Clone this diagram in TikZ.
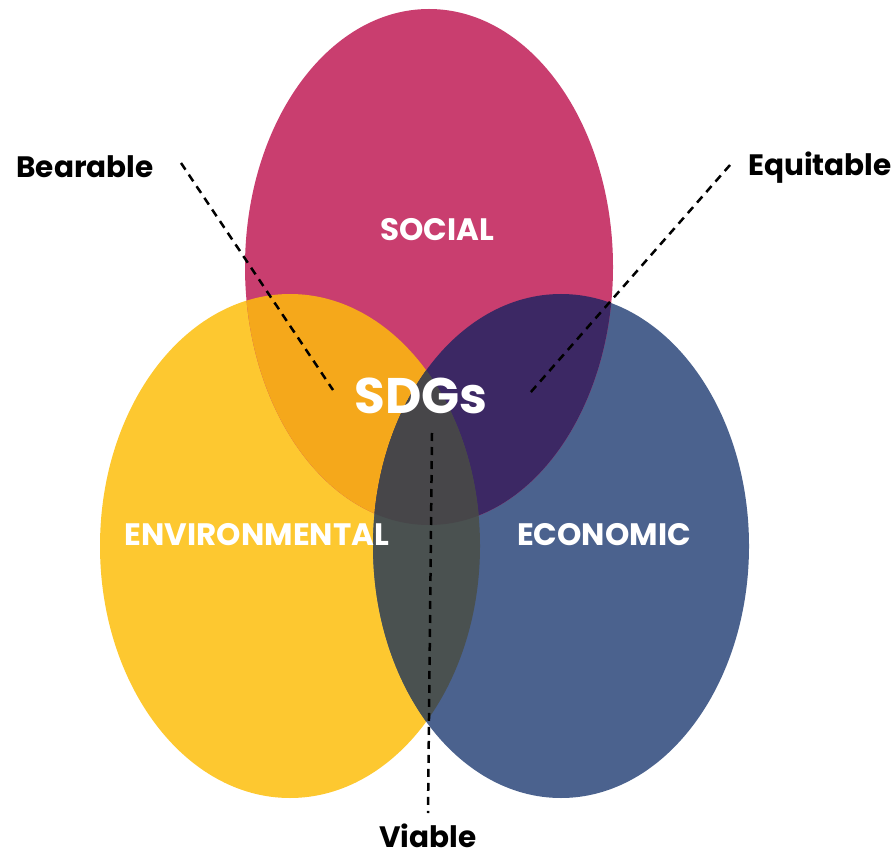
\documentclass[tikz,border=0pt]{standalone}
\usepackage{fontspec}
\setmainfont{Poppins}
\usepackage{tikz}

\definecolor{socialc}{HTML}{C93E6F}
\definecolor{envc}{HTML}{FDC830}
\definecolor{econc}{HTML}{4B628E}
\definecolor{socenv}{HTML}{F5A81B}
\definecolor{soceco}{HTML}{3C2864}
\definecolor{enveco}{HTML}{4A5150}
\definecolor{allthree}{HTML}{474649}

\newcommand{\socialpath}{(429,267) ellipse [x radius=184, y radius=258]}
\newcommand{\envpath}{(290,546) ellipse [x radius=190, y radius=252]}
\newcommand{\econpath}{(561,546) ellipse [x radius=188, y radius=252]}

\begin{document}
\begin{tikzpicture}
            [x=1pt,y=-1pt,
             circlelabel/.style={text=white,inner sep=0pt,font=\bfseries\fontsize{31}{34}\selectfont},
             sidelabel/.style={text=black,inner sep=0pt,font=\bfseries\fontsize{29.5}{32}\selectfont},
             guide/.style={line width=2.5pt,dash pattern=on 8pt off 6pt}]
            \useasboundingbox (0,0) rectangle (896,858);
            % the three circles
            \fill[envc] \envpath;
            \fill[econc] \econpath;
            \fill[socialc] \socialpath;
            % the overlaps
            \begin{scope}
                \clip \socialpath;
                \fill[socenv] \envpath;
                \fill[soceco] \econpath;
            \end{scope}
            \begin{scope}
                \clip \envpath;
                \fill[enveco] \econpath;
            \end{scope}
            \begin{scope}
                \clip \socialpath;
                \clip \envpath;
                \fill[allthree] \econpath;
            \end{scope}
            % labels
            \node[circlelabel] (social) at (437,230) {SOCIAL};
            \node[circlelabel] (env) at (257,535) {ENVIRONMENTAL};
            \node[circlelabel] (econ) at (604,535) {ECONOMIC};
            \node[text=white,inner sep=0pt,font=\bfseries\fontsize{50}{56}\selectfont] (sdgs) at (421,396) {SDGs};
            \node[sidelabel] (bearable) at (85,167) {Bearable};
            \node[sidelabel] (equitable) at (820,168) {Equitable};
            \node[sidelabel] (viable) at (428,836) {Viable};
            % the guide lines
            \coordinate (b1) at (181,163);
            \coordinate (b2) at (333,390);
            \coordinate (e1) at (730,165);
            \coordinate (e2) at (530,393);
            \coordinate (v1) at (432,433);
            \coordinate (v2) at (428,813);
            \draw[guide] (b1) -- (b2);
            \draw[guide] (e1) -- (e2);
            \draw[guide] (v1) -- (v2);
        \end{tikzpicture}
\end{document}
